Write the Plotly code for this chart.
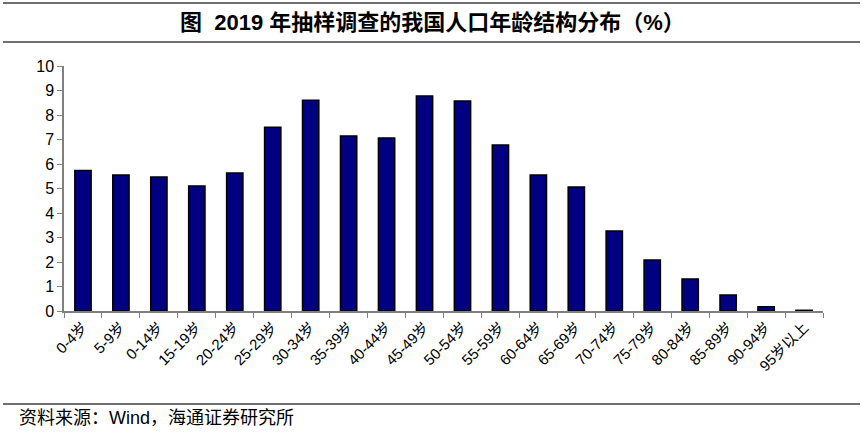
import plotly.graph_objects as go

categories = ["0-4岁", "5-9岁", "0-14岁", "15-19岁", "20-24岁", "25-29岁", "30-34岁",
              "35-39岁", "40-44岁", "45-49岁", "50-54岁", "55-59岁", "60-64岁", "65-69岁",
              "70-74岁", "75-79岁", "80-84岁", "85-89岁", "90-94岁", "95岁以上"]
values = [5.73, 5.55, 5.47, 5.1, 5.63, 7.5, 8.6, 7.14, 7.06, 8.78, 8.57, 6.78,
          5.55, 5.06, 3.27, 2.08, 1.31, 0.65, 0.17, 0.03]
y_ticks = list(range(0, 11))

title_text = "<b>图  2019 年抽样调查的我国人口年龄结构分布（%）</b>"
source_text = "资料来源：Wind，海通证券研究所"

FONT = "Liberation Sans, Arial, Noto Sans CJK SC, sans-serif"
W, H = 865, 439
L, R, T, B = 64, 823, 66, 311


def px(x):
    return (x - L) / (R - L)


def py(y):
    return (B - y) / (B - T)


fig = go.Figure(go.Bar(
    x=categories, y=values,
    marker=dict(color="#000080", line=dict(color="#000000", width=1.5)),
    width=0.43,
))

fig.update_layout(
    width=W, height=H,
    margin=dict(l=L, r=W - R, t=T, b=H - B),
    paper_bgcolor="white", plot_bgcolor="white",
    showlegend=False,
    font=dict(family=FONT, color="#000000"),
    xaxis=dict(
        type="category", showgrid=False, showline=True, linecolor="#808080", linewidth=1.5,
        ticks="outside", tickson="boundaries", ticklen=5, tickcolor="#808080",
        tickangle=-45, tickfont=dict(size=15, family=FONT), range=[-0.5, len(values) - 0.5],
    ),
    yaxis=dict(
        range=[0, 10], tickvals=y_ticks, showgrid=False, showline=True, linecolor="#808080",
        linewidth=1.5, ticks="outside", ticklen=5, tickcolor="#808080",
        tickfont=dict(size=16, family=FONT), zeroline=False,
    ),
    shapes=[
        dict(type="line", xref="paper", yref="paper", x0=px(3), x1=px(860), y0=py(3), y1=py(3),
             line=dict(color="#404040", width=1.5)),
        dict(type="line", xref="paper", yref="paper", x0=px(3), x1=px(860), y0=py(42), y1=py(42),
             line=dict(color="#404040", width=1.5)),
        dict(type="line", xref="paper", yref="paper", x0=px(3), x1=px(860), y0=py(404), y1=py(404),
             line=dict(color="#404040", width=1.5)),
    ],
    annotations=[
        dict(text=title_text, xref="paper", yref="paper", x=px(432), y=py(22),
             xanchor="center", yanchor="middle", showarrow=False,
             font=dict(size=22, family=FONT, color="#000000")),
        dict(text=source_text, xref="paper", yref="paper", x=px(17), y=py(418),
             xanchor="left", yanchor="middle", showarrow=False,
             font=dict(size=18, family=FONT, color="#000000")),
    ],
)

fig.write_html("out.html")
